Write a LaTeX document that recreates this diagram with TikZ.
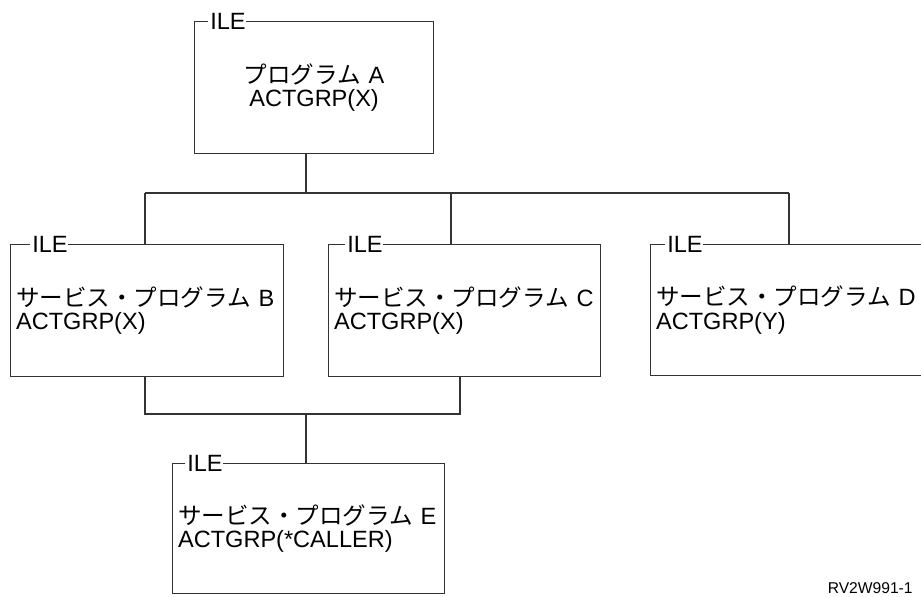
\documentclass[tikz,border=0pt]{standalone}
\usepackage{fontspec}
\setmainfont{Liberation Sans}
\newfontfamily\jpfont{Noto Sans CJK JP}
\usepackage{tikz}
\usetikzlibrary{calc,positioning}

\tikzset{
  ilebox/.style={draw=black!80, line width=0.7pt, anchor=north west, inner xsep=0.1cm,
    align=left, minimum height=2.64cm, font=\fontsize{13.4}{13.2}\selectfont},
  ilelabel/.style={anchor=west, fill=white, inner xsep=0pt, inner ysep=1pt,
    font=\fontsize{13.4}{13.2}\selectfont},
  wire/.style={draw=black!80, line width=0.7pt}
}

\begin{document}
\begin{tikzpicture}[x=0.02cm,y=-0.02cm,line cap=butt,line join=miter]
\useasboundingbox (0,0) rectangle (921,597);
\clip (0,0) rectangle (921,597);
% programs
\node[ilebox, minimum width=4.78cm, text width=4.5cm, align=center] (A) at (194,21) {{\jpfont プログラム} A\\ACTGRP(X)};
\node[ilebox, minimum width=5.46cm, text width=5.24cm] (B) at (10,244) {{\jpfont サービス・プログラム} B\\ACTGRP(X)};
\node[ilebox, minimum width=5.44cm, text width=5.22cm] (C) at (328,244) {{\jpfont サービス・プログラム} C\\ACTGRP(X)};
\node[ilebox, minimum width=6.0cm, text width=5.78cm, minimum height=2.62cm] (D) at (650,244) {{\jpfont サービス・プログラム} D\\ACTGRP(Y)};
\node[ilebox, minimum width=5.44cm, text width=5.22cm, minimum height=2.6cm] (E) at (172,463) {{\jpfont サービス・プログラム} E\\ACTGRP(*CALLER)};
% ILE labels
\node[ilelabel] (ileA) at ($(A.north west)+(14,0)$) {\hspace{1.1pt}ILE\hspace{5pt}};
\node[ilelabel] (ileB) at ($(B.north west)+(20,0)$) {\hspace{1.1pt}ILE\hspace{1.1pt}};
\node[ilelabel] (ileC) at ($(C.north west)+(17,0)$) {\hspace{1.1pt}ILE\hspace{5pt}};
\node[ilelabel] (ileD) at ($(D.north west)+(15,0)$) {\hspace{1.1pt}ILE\hspace{5pt}};
\node[ilelabel] (ileE) at ($(E.north west)+(13,0)$) {\hspace{1.1pt}ILE\hspace{5pt}};
% upper bus
\coordinate (busA) at (306,193);
\coordinate (busB) at (145,193);
\coordinate (busC) at (451,193);
\coordinate (busD) at (789,193);
\draw[wire] (A.south -| busA) -- (busA);
\draw[wire] (busB) -- (busD);
\draw[wire] (busB) -- (busB |- B.north);
\draw[wire] (busC) -- (busC |- C.north);
\draw[wire] (busD) -- (busD |- D.north);
% lower bus
\coordinate (joinB) at (145,414);
\coordinate (joinC) at (460,414);
\coordinate (joinE) at (306,414);
\draw[wire] (B.south -| joinB) -- (joinB) -- (joinC) -- (C.south -| joinC);
\draw[wire] (joinE) -- (joinE |- E.north);
\node[anchor=base east, inner sep=0pt, font=\fontsize{8.9}{10}\selectfont] (fig) at (913,594) {RV2W991-1};
\end{tikzpicture}
\end{document}
